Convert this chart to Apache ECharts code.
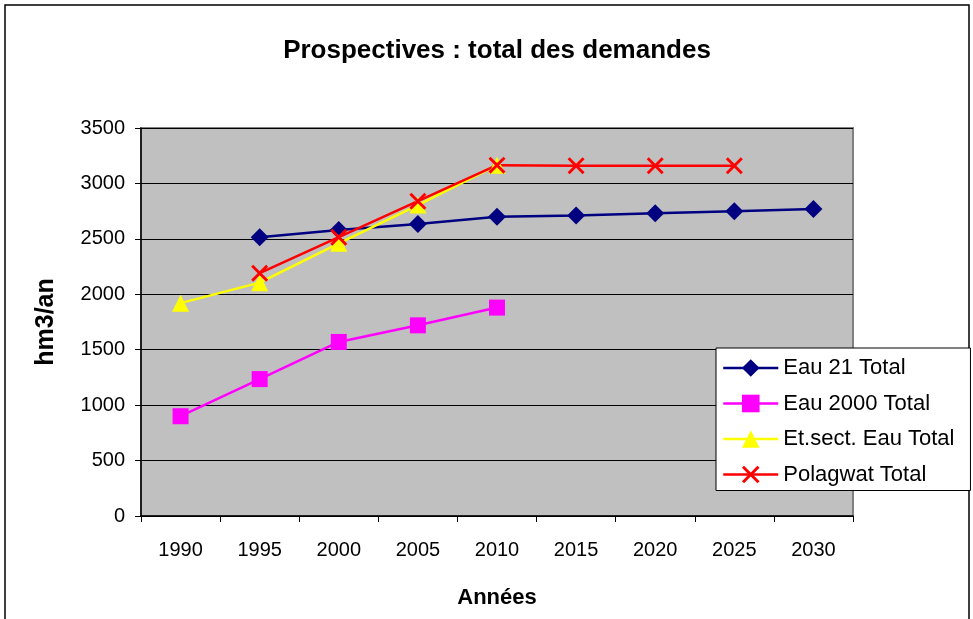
<!DOCTYPE html>
<html>

<head>
    <meta charset="utf-8">
    <title>Prospectives</title>
    <script src="https://cdn.jsdelivr.net/npm/echarts@6/dist/echarts.min.js"></script>
    <style>
        body { margin: 0; background: #fff; }
    </style>
</head>

<body>
    <div id="main" style="width: 973px;height:619px;"></div>
    <script type="text/javascript">

        // années (catégories)
        var annees = ['1990', '1995', '2000', '2005', '2010', '2015', '2020', '2025', '2030'];

        // hm3/an
        var eau21 = [null, 2515, 2580, 2635, 2700, 2710, 2730, 2750, 2770];
        var eau2000 = [900, 1235, 1570, 1720, 1880, null, null, null, null];
        var etSect = [1920, 2105, 2460, 2805, 3165, null, null, null, null];
        var polagwat = [null, 2190, 2515, 2840, 3165, 3160, 3160, 3160, null];

        var police = 'Liberation Sans, Arial, sans-serif';
        var croix = 'path://M12,0 L50,38 L88,0 L100,12 L62,50 L100,88 L88,100 L50,62 L12,100 L0,88 L38,50 L0,12 Z';

        var myChart = echarts.init(document.getElementById('main'));

        function serie(nom, valeurs, couleur, symbole, taille) {
            return {
                name: nom,
                type: 'line',
                data: valeurs,
                symbol: symbole,
                symbolSize: taille,
                showAllSymbol: true,
                connectNulls: false,
                color: couleur,
                lineStyle: { color: couleur, width: 2.5 },
                itemStyle: { color: couleur },
                emphasis: { disabled: true }
            };
        }

        var option = {
            animation: false,
            backgroundColor: '#fff',
            title: {
                text: 'Prospectives : total des demandes',
                left: 492,
                textAlign: 'center',
                top: 33,
                textStyle: { fontFamily: police, fontSize: 26, fontWeight: 'bold', color: '#000' }
            },
            graphic: [{
                type: 'rect',
                shape: { x: 5, y: 5, width: 964, height: 640 },
                style: { fill: 'none', stroke: '#000', lineWidth: 1.5 },
                z: -1
            }],
            legend: {
                orient: 'vertical',
                left: 716,
                top: 348,
                padding: [9, 16, 5, 6],
                itemWidth: 55,
                itemHeight: 22,
                itemGap: 13.5,
                borderColor: '#000',
                borderWidth: 1,
                backgroundColor: '#fff',
                lineStyle: { width: 2.5 },
                textStyle: { fontFamily: police, fontSize: 22, color: '#000', padding: [0, 0, 0, 0] },
                data: ['Eau 21 Total', 'Eau 2000 Total', 'Et.sect. Eau Total', 'Polagwat Total']
            },
            grid: {
                left: 141,
                right: 120,
                top: 128,
                bottom: 103,
                show: true,
                backgroundColor: '#c0c0c0',
                borderColor: '#808080',
                borderWidth: 2
            },
            xAxis: {
                type: 'category',
                data: annees,
                boundaryGap: true,
                name: 'Années',
                nameLocation: 'middle',
                nameGap: 71,
                nameTextStyle: { fontFamily: police, fontSize: 22, fontWeight: 'bold', color: '#000' },
                axisLine: { lineStyle: { color: '#000', width: 1.5 } },
                axisTick: { show: true, length: 6, inside: false, lineStyle: { color: '#000' } },
                axisLabel: { fontFamily: police, fontSize: 20, color: '#000', margin: 24 },
                splitLine: { show: false }
            },
            yAxis: {
                type: 'value',
                min: 0,
                max: 3500,
                interval: 500,
                name: 'hm3/an',
                nameLocation: 'middle',
                nameGap: 82,
                nameTextStyle: { fontFamily: police, fontSize: 25, fontWeight: 'bold', color: '#000' },
                axisLine: { show: true, lineStyle: { color: '#000', width: 1.5 } },
                axisTick: { show: true, length: 6, lineStyle: { color: '#000' } },
                axisLabel: {
                    fontFamily: police, fontSize: 20, color: '#000', margin: 16,
                    formatter: function (v) { return String(v); }
                },
                splitLine: { show: true, lineStyle: { color: '#000', width: 1 } }
            },
            series: [
                serie('Eau 21 Total', eau21, '#000080', 'diamond', 18),
                serie('Eau 2000 Total', eau2000, '#ff00ff', 'rect', 16),
                serie('Et.sect. Eau Total', etSect, '#ffff00', 'triangle', 17),
                serie('Polagwat Total', polagwat, '#ff0000', croix, 17)
            ]
        };

        myChart.setOption(option);

    </script>
</body>

</html>
